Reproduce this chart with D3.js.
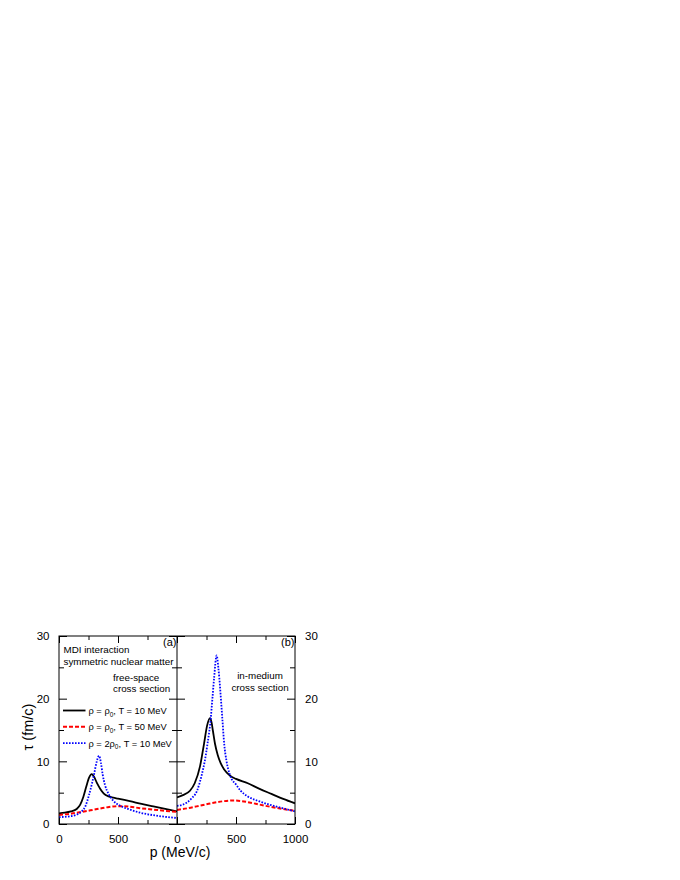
<!DOCTYPE html>
<html>
<head>
<meta charset="utf-8">
<script src="https://cdn.jsdelivr.net/npm/d3@7"></script>
<style>
  html, body { margin: 0; padding: 0; background: #fff; }
  svg { display: block; }
  text { font-family: "Liberation Sans", Arial, Helvetica, sans-serif; fill: #000; }
</style>
</head>
<body>
<svg id="chart" width="680" height="880"></svg>
<script>
// ---- data: [p (MeV/c), tau (fm/c)] ----
// panel (a): free-space cross section
const freeRho0T10 = [[0,1.7],[50,1.8],[100,2.0],[150,2.4],[180,3.1],[206,4.3],[230,5.9],[255,7.4],[277,7.95],[295,7.6],[320,6.6],[350,5.6],[380,4.85],[420,4.4],[460,4.2],[500,4.05],[600,3.65],[700,3.2],[800,2.8],[900,2.4],[1000,2.0]];
const freeRho0T50 = [[0,1.45],[100,1.65],[200,1.95],[300,2.3],[400,2.65],[500,2.85],[550,2.85],[600,2.75],[700,2.5],[800,2.3],[900,2.1],[1000,1.95]];
const free2Rho0T10 = [[0,1.1],[100,1.25],[150,1.5],[192,2.0],[225,2.9],[254,4.6],[280,6.5],[300,8.2],[320,10.0],[339,10.9],[355,9.8],[370,7.9],[390,6.2],[420,4.8],[460,3.7],[520,2.9],[600,2.3],[700,1.75],[800,1.4],[900,1.15],[1000,0.95]];
// panel (b): in-medium cross section
const medRho0T10 = [[0,4.25],[50,4.6],[110,5.3],[150,6.5],[195,9.2],[229,12.8],[255,15.7],[280,16.9],[292,16.3],[305,14.8],[322,12.8],[345,11.0],[370,9.7],[400,8.7],[450,7.7],[500,7.2],[600,6.5],[700,5.6],[800,4.8],[900,4.0],[1000,3.3]];
const medRho0T50 = [[0,2.25],[100,2.55],[200,2.95],[300,3.35],[400,3.65],[480,3.75],[550,3.65],[650,3.3],[750,2.9],[850,2.55],[1000,2.1]];
const med2Rho0T10 = [[0,2.9],[50,3.1],[124,4.1],[170,5.3],[209,7.8],[235,10.0],[257,12.6],[286,16.85],[300,20.0],[314,23.2],[336,26.9],[350,25.0],[359,23.2],[384,16.85],[401,12.6],[420,10.0],[449,7.8],[500,6.3],[540,5.3],[600,4.4],[700,3.6],[800,3.0],[900,2.5],[1000,2.0]];

const xMajorTicks = [0, 500, 1000];
const xMinorTicks = [250, 750];
const yMajorTicks = [0, 10, 20, 30];
const yMinorTicks = [5, 15, 25];
const xLabelsA = [0, 500];
const xLabelsB = [0, 500, 1000];

const legendLabels = [
  {pre: "ρ = ρ", sub: "0", post: ", T = 10 MeV"},
  {pre: "ρ = ρ", sub: "0", post: ", T = 50 MeV"},
  {pre: "ρ = 2ρ", sub: "0", post: ", T = 10 MeV"}
];

// ---- styles ----
const styles = [
  {color: "#000000", width: 1.8, dash: null},
  {color: "#ff0000", width: 2.0, dash: "4,2"},
  {color: "#0000ff", width: 1.8, dash: "1.6,1.4"}
];

const svg = d3.select("#chart");
const L = 59, M = 177, R = 295, T = 636, B = 824;

const xA = d3.scaleLinear().domain([0, 1000]).range([L, M]);
const xB = d3.scaleLinear().domain([0, 1000]).range([M, R]);
const y = d3.scaleLinear().domain([0, 30]).range([B, T]);

const defs = svg.append("defs");
defs.append("clipPath").attr("id", "clipA").append("rect")
  .attr("x", L).attr("y", T).attr("width", M - L).attr("height", B - T);
defs.append("clipPath").attr("id", "clipB").append("rect")
  .attr("x", M).attr("y", T).attr("width", R - M).attr("height", B - T);

function styleAxis(g, fontSize) {
  g.select(".domain").remove();
  g.selectAll(".tick line").attr("stroke", "#000").attr("stroke-width", 1);
  g.selectAll("text").attr("font-family", "Liberation Sans, Arial, sans-serif")
    .attr("font-size", fontSize).attr("fill", "#000");
  g.attr("font-family", null).attr("font-size", null);
}

function xAxes(x, labels) {
  svg.append("g").attr("transform", `translate(0,${B})`)
    .call(d3.axisBottom(x).tickValues(xMajorTicks).tickSize(-7).tickFormat(""))
    .call(g => styleAxis(g, 11.5));
  svg.append("g").attr("transform", `translate(0,${B})`)
    .call(d3.axisBottom(x).tickValues(labels).tickSize(0).tickPadding(10.5).tickFormat(d3.format("d")))
    .call(g => styleAxis(g, 11.5));
  svg.append("g").attr("transform", `translate(0,${B})`)
    .call(d3.axisBottom(x).tickValues(xMinorTicks).tickSize(-4).tickFormat(""))
    .call(g => styleAxis(g, 11.5));
  svg.append("g").attr("transform", `translate(0,${T})`)
    .call(d3.axisTop(x).tickValues(xMajorTicks).tickSize(-7).tickFormat(""))
    .call(g => styleAxis(g, 11.5));
  svg.append("g").attr("transform", `translate(0,${T})`)
    .call(d3.axisTop(x).tickValues(xMinorTicks).tickSize(-4).tickFormat(""))
    .call(g => styleAxis(g, 11.5));
}
xAxes(xA, xLabelsA);
xAxes(xB, xLabelsB);

// left axis with labels
svg.append("g").attr("transform", `translate(${L},0)`)
  .call(d3.axisLeft(y).tickValues(yMajorTicks).tickSize(-8).tickPadding(9.5))
  .call(g => styleAxis(g, 11.5));
svg.append("g").attr("transform", `translate(${L},0)`)
  .call(d3.axisLeft(y).tickValues(yMinorTicks).tickSize(-5).tickFormat(""))
  .call(g => styleAxis(g, 11.5));
// right axis with labels
svg.append("g").attr("transform", `translate(${R},0)`)
  .call(d3.axisRight(y).tickValues(yMajorTicks).tickSize(-8).tickPadding(10))
  .call(g => styleAxis(g, 11.5));
svg.append("g").attr("transform", `translate(${R},0)`)
  .call(d3.axisRight(y).tickValues(yMinorTicks).tickSize(-5).tickFormat(""))
  .call(g => styleAxis(g, 11.5));
// divider ticks on both sides
[d3.axisRight, d3.axisLeft].forEach(ax => {
  svg.append("g").attr("transform", `translate(${M},0)`)
    .call(ax(y).tickValues(yMajorTicks).tickSize(-8).tickFormat(""))
    .call(g => styleAxis(g, 11.5));
  svg.append("g").attr("transform", `translate(${M},0)`)
    .call(ax(y).tickValues(yMinorTicks).tickSize(-5).tickFormat(""))
    .call(g => styleAxis(g, 11.5));
});

// curves
function drawSeries(x, clip, data, s) {
  const line = d3.line().x(d => x(d[0])).y(d => y(d[1])).curve(d3.curveMonotoneX);
  const p = svg.append("path").datum(data)
    .attr("clip-path", `url(#${clip})`)
    .attr("fill", "none")
    .attr("stroke", s.color)
    .attr("stroke-width", s.width)
    .attr("d", line);
  if (s.dash) p.attr("stroke-dasharray", s.dash);
}
[freeRho0T10, freeRho0T50, free2Rho0T10].forEach((d, i) => drawSeries(xA, "clipA", d, styles[i]));
[medRho0T10, medRho0T50, med2Rho0T10].forEach((d, i) => drawSeries(xB, "clipB", d, styles[i]));

// frame
svg.append("rect").attr("x", L).attr("y", T).attr("width", R - L).attr("height", B - T)
  .attr("fill", "none").attr("stroke", "#000").attr("stroke-width", 1);
svg.append("line").attr("x1", M).attr("x2", M).attr("y1", T).attr("y2", B)
  .attr("stroke", "#000").attr("stroke-width", 1);

// axis titles
svg.append("text").attr("x", 180).attr("y", 857).attr("text-anchor", "middle")
  .attr("font-size", 14).text("p (MeV/c)");
svg.append("text").attr("transform", "translate(33,727) rotate(-90)")
  .attr("text-anchor", "middle").attr("font-size", 14.5).text("τ (fm/c)");

// annotations
svg.append("text").attr("x", 63.5).attr("y", 653).attr("font-size", 9.8).text("MDI interaction");
svg.append("text").attr("x", 63.5).attr("y", 665).attr("font-size", 9.8).text("symmetric nuclear matter");
svg.append("text").attr("x", 113).attr("y", 681).attr("font-size", 9.8).text("free-space");
svg.append("text").attr("x", 113).attr("y", 692).attr("font-size", 9.8).text("cross section");
svg.append("text").attr("x", 176.5).attr("y", 646).attr("text-anchor", "end").attr("font-size", 11).text("(a)");
svg.append("text").attr("x", 294.5).attr("y", 646).attr("text-anchor", "end").attr("font-size", 11).text("(b)");
svg.append("text").attr("x", 260).attr("y", 679).attr("text-anchor", "middle").attr("font-size", 9.8).text("in-medium");
svg.append("text").attr("x", 260).attr("y", 691).attr("text-anchor", "middle").attr("font-size", 9.8).text("cross section");

// legend
const legY = [710.5, 726.8, 743.1];
legendLabels.forEach((lab, i) => {
  const s = styles[i];
  const ln = svg.append("line").attr("x1", 63).attr("x2", 85.5)
    .attr("y1", legY[i]).attr("y2", legY[i])
    .attr("stroke", s.color).attr("stroke-width", s.width);
  if (s.dash) ln.attr("stroke-dasharray", s.dash);
  const t = svg.append("text").attr("x", 88.5).attr("y", legY[i] + 3.6).attr("font-size", 9.3);
  t.append("tspan").text(lab.pre);
  t.append("tspan").attr("font-size", 6.5).attr("dy", 2.4).text(lab.sub);
  t.append("tspan").attr("dy", -2.4).text(lab.post);
});
</script>
</body>
</html>
